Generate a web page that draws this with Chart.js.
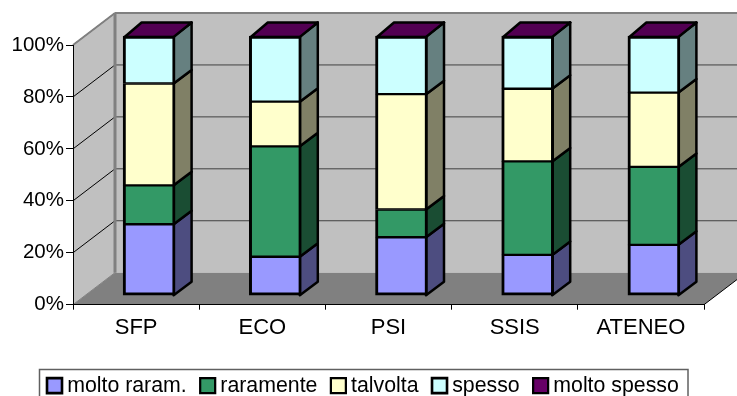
<!DOCTYPE html>
<html>
<head>
<meta charset="utf-8">
<style>
  html, body { margin: 0; padding: 0; background: #fff; overflow: hidden; }
  canvas { display: block; }
</style>
<script src="https://cdn.jsdelivr.net/npm/chart.js@4"></script>
</head>
<body>
<canvas id="userChart" width="737" height="396"></canvas>
<script>
const categories = ["SFP", "ECO", "PSI", "SSIS", "ATENEO"];
const yTicks = [0, 20, 40, 60, 80, 100];

const moltoRaram = [27.5, 15, 22.5, 15.7, 19.6];
const raramente = [15, 42.5, 10.7, 36, 30];
const talvolta = [39.2, 17.2, 44.4, 28, 28.6];
const spesso = [18.3, 25.3, 22.4, 20.3, 21.8];
const moltoSpesso = [0, 0, 0, 0, 0];

const seriesNames = ["molto raram.", "raramente", "talvolta", "spesso", "molto spesso"];
const seriesValues = [moltoRaram, raramente, talvolta, spesso, moltoSpesso];
const fillColors = ["#9999FF", "#339966", "#FFFFCC", "#CCFFFF", "#660066"];
const sideColors = ["#4D4D80", "#1A4D33", "#808066", "#668080", "#330033"];
const topColor = "#520052";

// depth of the box the chart sits in, and of the bars inside it
const wallDx = 42, wallDy = -32;
const barShiftX = 13, barShiftY = -9;
const barDx = 17.5, barDy = -13.5;

function poly(ctx, pts, fill, stroke, width) {
  ctx.beginPath();
  pts.forEach((p, i) => (i ? ctx.lineTo(p[0], p[1]) : ctx.moveTo(p[0], p[1])));
  ctx.closePath();
  if (fill) {
    ctx.fillStyle = fill;
    ctx.fill();
  }
  if (stroke) {
    ctx.strokeStyle = stroke;
    ctx.lineWidth = width;
    ctx.stroke();
  }
}

function line(ctx, x1, y1, x2, y2, color, width) {
  ctx.beginPath();
  ctx.moveTo(x1, y1);
  ctx.lineTo(x2, y2);
  ctx.strokeStyle = color;
  ctx.lineWidth = width;
  ctx.stroke();
}

const boxPlugin = {
  id: "box3d",
  afterLayout(chart) {
    chart.legend.left = 33.5;
    chart.legend.right = 737;
    chart.legend.top = 356;
  },
  beforeDraw(chart) {
    const ctx = chart.ctx;
    const a = chart.chartArea;
    const y = chart.scales.y;
    const backRight = a.right + wallDx;
    const backLeft = a.left + wallDx;
    const backTop = a.top + wallDy;
    const backBottom = a.bottom + wallDy;
    ctx.save();
    // back wall and left wall
    poly(ctx, [[backLeft, backTop], [backRight, backTop], [backRight, backBottom], [backLeft, backBottom]], "#C0C0C0");
    poly(ctx, [[a.left, a.top], [backLeft, backTop], [backLeft, backBottom], [a.left, a.bottom]], "#C0C0C0");
    // gridlines on both walls
    yTicks.forEach((t) => {
      const py = y.getPixelForValue(t);
      if (t > 0 && t < 100) {
        line(ctx, backLeft, py + wallDy, backRight, py + wallDy, "#404040", 1);
      }
      if (t > 0) {
        line(ctx, a.left, py, backLeft, py + wallDy, "#000000", 1);
      }
    });
    // floor
    poly(ctx, [[a.left, a.bottom], [backLeft, backBottom], [backRight, backBottom], [a.right, a.bottom]], "#808080");
    line(ctx, a.right, a.bottom, backRight, backBottom, "#000000", 1);
    // wall frame
    line(ctx, a.left, a.top, backLeft, backTop, "#808080", 2);
    line(ctx, backLeft, backTop, backRight, backTop, "#808080", 2);
    line(ctx, backLeft, backTop, backLeft, backBottom, "#808080", 3);
    line(ctx, a.left, a.bottom, backLeft, backBottom, "#808080", 1);
    // legend frame
    ctx.strokeStyle = "#606060";
    ctx.lineWidth = 1.5;
    ctx.strokeRect(39.5, 369.5, 648.5, 40);
    ctx.restore();
  },
  beforeDatasetsDraw(chart) {
    const ctx = chart.ctx;
    ctx.save();
    ctx.translate(barShiftX, barShiftY);
    ctx.lineJoin = "round";
    seriesValues.forEach((vals, i) => {
      chart.getDatasetMeta(i).data.forEach((bar) => {
        const r = bar.x + bar.width / 2;
        const l = bar.x - bar.width / 2;
        poly(ctx, [[r - 1.5, bar.base], [r - 1.5, bar.y], [r + barDx - 1, bar.y + barDy], [r + barDx - 1, bar.base + barDy]], sideColors[i], "#000000", 2.5);
        if (i === seriesValues.length - 1) {
          poly(ctx, [[l + 1.5, bar.y + 1], [r - 1.5, bar.y + 1], [r + barDx - 1, bar.y + barDy], [l + barDx + 1, bar.y + barDy]], topColor, "#000000", 2.5);
        }
      });
    });
  },
  afterDatasetsDraw(chart) {
    chart.ctx.restore();
  },
};

const fontFamily = "'Liberation Sans', Arial, sans-serif";

new Chart(document.getElementById("userChart").getContext("2d"), {
  type: "bar",
  data: {
    labels: categories,
    datasets: seriesNames.map((name, i) => ({
      label: name,
      data: seriesValues[i],
      backgroundColor: fillColors[i],
      borderColor: "#000000",
      borderWidth: { left: 3, right: 3, top: i === 3 ? 3 : 1.5, bottom: i === 0 ? 3 : 1.5 },
      borderSkipped: false,
      barThickness: 52,
      clip: false,
    })),
  },
  options: {
    responsive: false,
    animation: false,
    layout: { padding: { top: 45, right: 33 } },
    scales: {
      x: {
        stacked: true,
        offset: true,
        afterFit: (s) => { s.height = 41; },
        grid: { drawOnChartArea: false, drawTicks: true, tickLength: 5, color: "#000000", offset: true },
        border: { color: "#000000", width: 1 },
        ticks: { color: "#000000", font: { family: fontFamily, size: 22 }, padding: 5, maxRotation: 0 },
      },
      y: {
        stacked: true,
        min: 0,
        max: 100,
        afterFit: (s) => { s.width = 73; },
        afterBuildTicks: (s) => { s.ticks = yTicks.map((v) => ({ value: v })); },
        grid: { drawOnChartArea: false, drawTicks: true, tickLength: 7, color: "#000000" },
        border: { color: "#000000", width: 1 },
        ticks: { color: "#000000", font: { family: fontFamily, size: 20.5 }, padding: 2, callback: (v) => v + "%" },
      },
    },
    plugins: {
      tooltip: { enabled: false },
      legend: {
        position: "bottom",
        align: "start",
        labels: {
          usePointStyle: true,
          pointStyle: "rect",
          boxWidth: 4,
          boxHeight: 15,
          padding: 19,
          color: "#000000",
          font: { family: fontFamily, size: 21.3 },
        },
      },
    },
  },
  plugins: [boxPlugin],
});
</script>
</body>
</html>
